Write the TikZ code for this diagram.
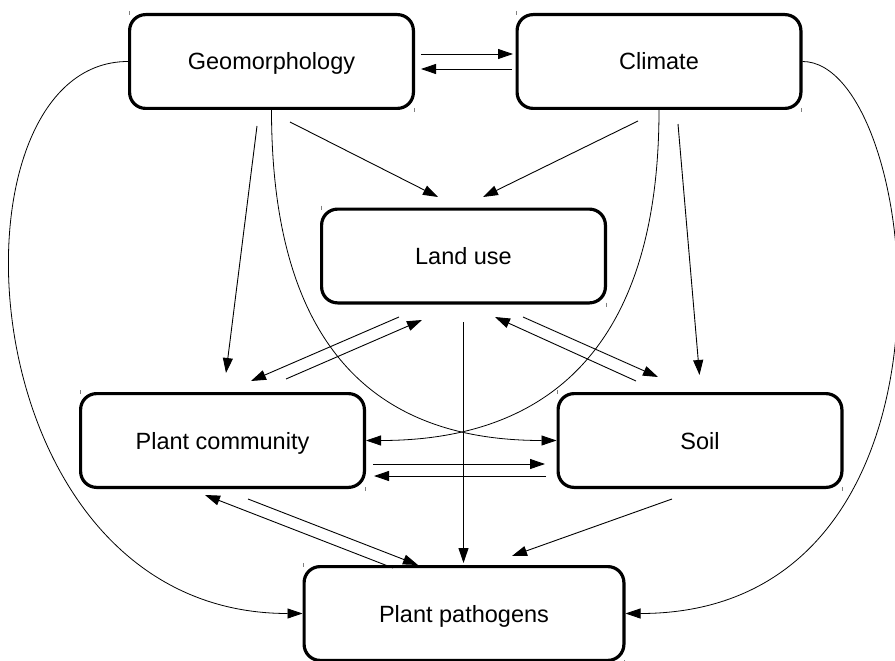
\documentclass[tikz,border=0pt]{standalone}
\usepackage{fontspec}
\setmainfont{Liberation Sans}
\usetikzlibrary{arrows.meta,calc}
\begin{document}
\begin{tikzpicture}[x=1pt,y=-1pt,
  box/.style={draw, line width=3.2pt, rounded corners=16pt, minimum width=283.8pt,
    minimum height=93.8pt, inner sep=0pt, text height=17pt, text depth=0pt,
    font=\fontsize{23.5}{28}\selectfont},
  conn/.style={line width=0.9pt, -{Triangle[length=15pt,width=10pt]}},
  curv/.style={line width=0.8pt, -{Triangle[length=15pt,width=10pt]}},
  tickmark/.style={gray, line width=0.6pt}]
\useasboundingbox (0,0) rectangle (895,661);
\fill[white] (0,0) rectangle (895,661);

\node[box] (geo) at (271.5,61.5) {Geomorphology};
\node[box] (cli) at (659,61.5) {Climate};
\node[box] (land) at (463.5,256) {Land use};
\node[box] (pc) at (222.5,440.5) {Plant community};
\node[box] (soil) at (700,440.5) {Soil};
\node[box, minimum width=319.8pt] (pp) at (464,613.5) {Plant pathogens};

\foreach \n in {geo,cli,land,pc,soil,pp}{
  \draw[tickmark] (\n.north west) ++(1,-2) -- ++(0,4);
  \draw[tickmark] (\n.south east) ++(-1,-2) -- ++(0,4);
}

% top pair
\draw[conn] ([shift={(149.5,-7.5)}]geo.center) -- ([shift={(-146,-7.5)}]cli.center);
\draw[conn] ([shift={(-147,7.5)}]cli.center) -- ([shift={(149.5,7.5)}]geo.center);
% to land use
\draw[conn] ([shift={(18.5,60.5)}]geo.center) -- ([shift={(-25.5,-59)}]land.center);
\draw[conn] ([shift={(-21,59.5)}]cli.center) -- ([shift={(19.5,-59)}]land.center);
% geo -> pc, cli -> soil
\draw[conn] ([shift={(-14.5,64.5)}]geo.center) -- ([shift={(3.5,-67.5)}]pc.center);
\draw[conn] ([shift={(19,62.5)}]cli.center) -- ([shift={(-0.5,-65.5)}]soil.center);
% crossing curves
\draw[curv] (geo.south) .. controls ($(geo.south)+(0,270)$) and ($(soil.west)+(-150,0)$) .. (soil.west);
\draw[curv] (cli.south) .. controls ($(cli.south)+(0,270)$) and ($(pc.east)+(150,0)$) .. (pc.east);
% outer curves
\draw[curv] (geo.west) .. controls ($(geo.west)+(-190,0)$) and ($(pp.west)+(-340,0)$) .. (pp.west);
\draw[curv] (cli.east) .. controls ($(cli.east)+(120,0)$) and ($(pp.east)+(360,0)$) .. (pp.east);
% land use <-> plant community
\draw[conn] ([shift={(-64.5,61)}]land.center) -- ([shift={(28.5,-59.5)}]pc.center);
\draw[conn] ([shift={(63.5,-61.5)}]pc.center) -- ([shift={(-41.5,64)}]land.center);
% land use <-> soil
\draw[conn] ([shift={(-64,-59.5)}]soil.center) -- ([shift={(31.5,61)}]land.center);
\draw[conn] ([shift={(59.5,61)}]land.center) -- ([shift={(-42,-63.5)}]soil.center);
% land use -> pathogens
\draw[conn] ([shift={(0,66)}]land.center) -- ([shift={(-0.5,-50.5)}]pp.center);
% pc <-> soil
\draw[conn] ([shift={(150.5,23.5)}]pc.center) -- ([shift={(-155,23.5)}]soil.center);
\draw[conn] ([shift={(-154,35.5)}]soil.center) -- ([shift={(151.5,35.5)}]pc.center);
% pc <-> pathogens
\draw[conn] ([shift={(-71,-45.5)}]pp.center) -- ([shift={(-17.5,54.5)}]pc.center);
\draw[conn] ([shift={(25.5,58.5)}]pc.center) -- ([shift={(-46,-48.5)}]pp.center);
% soil -> pathogens
\draw[conn] ([shift={(-28,58.5)}]soil.center) -- ([shift={(48,-57.5)}]pp.center);
\end{tikzpicture}
\end{document}
